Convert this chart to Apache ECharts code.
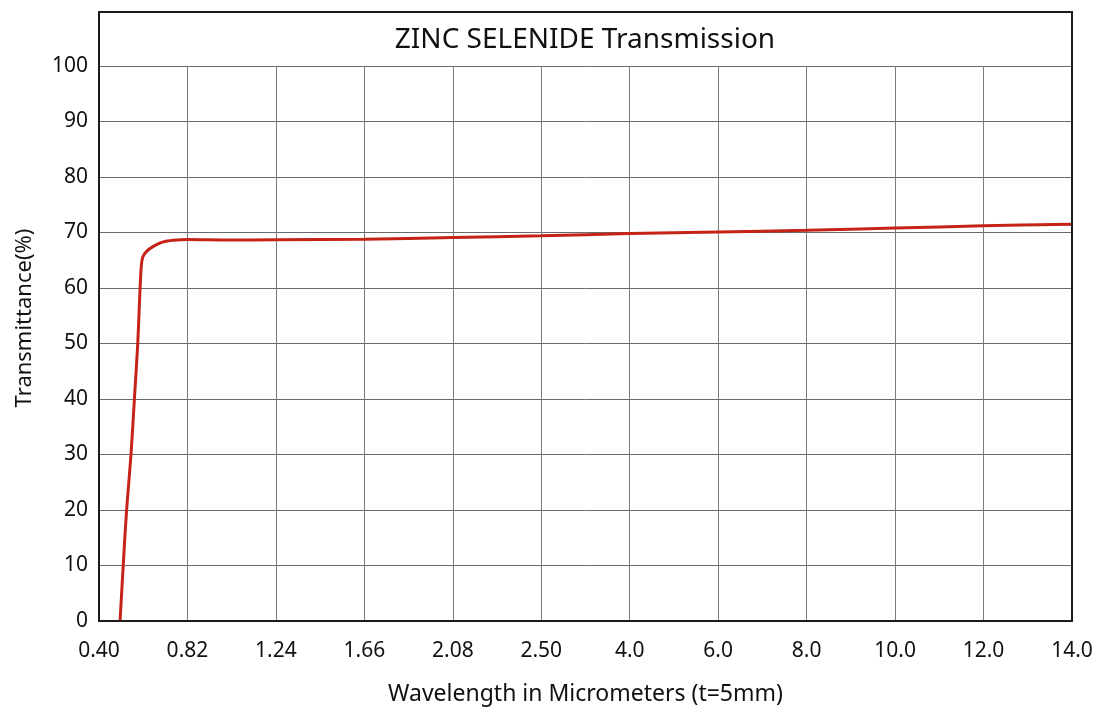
<!DOCTYPE html>
<html>
<head>
<meta charset="utf-8">
<script src="https://cdn.jsdelivr.net/npm/echarts@6/dist/echarts.min.js"></script>
<style>
  html, body { margin: 0; padding: 0; background: #fff; }
  #chart { width: 1100px; height: 720px; }
</style>
</head>
<body>
<div id="chart"></div>
<script>
// Tick labels of the (non-uniform) wavelength axis, in micrometers
const tickLabels = ['0.40', '0.82', '1.24', '1.66', '2.08', '2.50', '4.0', '6.0', '8.0', '10.0', '12.0', '14.0'];
const tickValues = [0.40, 0.82, 1.24, 1.66, 2.08, 2.50, 4.0, 6.0, 8.0, 10.0, 12.0, 14.0];

// Transmission curve
const wavelengths = [0.500, 0.515, 0.531, 0.552, 0.568, 0.584, 0.595, 0.601, 0.608, 0.626, 0.658, 0.705, 0.753, 0.82, 1.02, 1.24, 1.66, 2.08, 2.50, 4.0, 6.0, 8.0, 10.0, 12.0, 14.0];
const transmittance = [0, 10, 20, 30, 40, 50, 60, 64, 65.6, 66.6, 67.5, 68.3, 68.6, 68.75, 68.65, 68.7, 68.8, 69.1, 69.4, 69.8, 70.1, 70.4, 70.8, 71.2, 71.5];

const yTicks = [0, 10, 20, 30, 40, 50, 60, 70, 80, 90, 100];

// piecewise-linear position of a wavelength on the tick index axis
function axisPos(w) {
  for (let i = 0; i < tickValues.length - 1; i++) {
    if (w <= tickValues[i + 1]) {
      return i + (w - tickValues[i]) / (tickValues[i + 1] - tickValues[i]);
    }
  }
  return tickValues.length - 1;
}

const seriesData = wavelengths.map((w, i) => [axisPos(w), transmittance[i]]);

const chart = echarts.init(document.getElementById('chart'), null, { renderer: 'canvas' });
const FONT = 'Noto Sans';

chart.setOption({
  backgroundColor: '#ffffff',
  animation: false,
  textStyle: { fontFamily: FONT },
  title: {
    text: 'ZINC SELENIDE Transmission',
    left: 580,
    top: 21,
    textAlign: 'center',
    textStyle: { fontFamily: FONT, fontSize: 28, fontWeight: 'normal', color: '#111' }
  },
  grid: { left: 99, right: 28, top: 66, bottom: 99, show: false },
  xAxis: {
    type: 'value',
    min: 0,
    max: tickLabels.length - 1,
    interval: 1,
    name: 'Wavelength in Micrometers (t=5mm)',
    nameLocation: 'middle',
    nameGap: 62,
    nameTextStyle: { fontFamily: FONT, fontSize: 23, color: '#111' },
    axisLine: { show: true, lineStyle: { color: '#111', width: 2 } },
    axisTick: { show: false },
    axisLabel: {
      margin: 20,
      fontFamily: FONT, fontSize: 21, color: '#111',
      formatter: v => tickLabels[Math.round(v)]
    },
    splitLine: { show: true, lineStyle: { color: '#7a7a7a', width: 1 } }
  },
  yAxis: {
    type: 'value',
    min: 0,
    max: 100,
    interval: 10,
    axisLine: { show: true, lineStyle: { color: '#111', width: 2 } },
    axisTick: { show: false },
    axisLabel: {
      margin: 11,
      fontFamily: FONT, fontSize: 21, color: '#111',
      formatter: v => yTicks.includes(v) ? String(v) : ''
    },
    splitLine: { show: true, lineStyle: { color: '#6a6a6a', width: 1 } }
  },
  graphic: [
    {
      type: 'rect',
      z: 100,
      shape: { x: 99, y: 12, width: 973, height: 609 },
      style: { fill: null, stroke: '#1a1a1a', lineWidth: 2 },
      silent: true
    },
    {
      type: 'text',
      z: 100,
      x: 25,
      y: 318,
      rotation: Math.PI / 2,
      style: {
        text: 'Transmittance(%)',
        fontFamily: FONT, fontSize: 22, fill: '#111',
        align: 'center', verticalAlign: 'middle'
      }
    }
  ],
  series: [{
    type: 'line',
    data: seriesData,
    showSymbol: false,
    smooth: 0.3,
    lineStyle: { color: '#c42316', width: 3 },
    clip: true,
    z: 10
  }]
});
</script>
</body>
</html>
